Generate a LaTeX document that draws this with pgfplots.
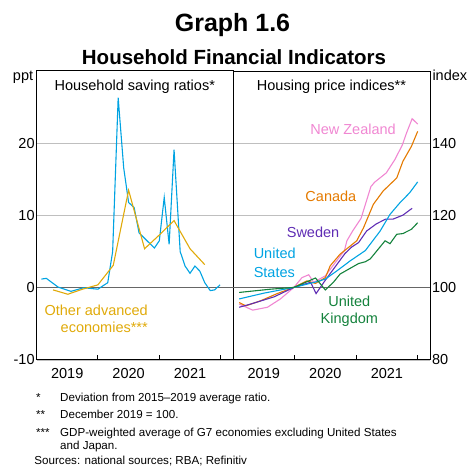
\documentclass[border=0pt]{standalone}
\usepackage{fontspec}
\setmainfont{Liberation Sans}
\usepackage{pgfplots}
\pgfplotsset{compat=1.18}

\definecolor{usblue}{RGB}{0,163,226}
\definecolor{oaegold}{RGB}{224,170,10}
\definecolor{caorange}{RGB}{228,122,0}
\definecolor{sepurple}{RGB}{95,45,180}
\definecolor{nzpink}{RGB}{240,135,210}
\definecolor{ukgreen}{RGB}{20,130,60}

\newcommand{\fs}[1]{\fontsize{#1}{1.2\dimexpr#1pt\relax}\selectfont}

\pgfplotsset{
  panel/.style={
    scale only axis, height=289pt,
    xmin=2019, xmax=2022.2,
    xtick={2019.5,2020.5,2021.5}, xticklabels={2019,2020,2021},
    minor xtick={2020,2021,2022},
    xtick pos=left, tick align=inside,
    major tick length=0pt, minor tick length=5pt,
    minor tick style={line width=0.9pt, black},
    axis line style={line width=1pt, black},
    ymajorgrids, grid style={line width=0.8pt, black!25},
    ticklabel style={font=\fs{14.5}},
    /pgf/number format/assume math mode=true,
    xticklabel style={yshift=-4.5pt},
    every axis plot/.append style={line width=1.1pt, mark=none},
  },
}

\begin{document}
\begin{tikzpicture}
\useasboundingbox (-36.5pt,-110pt) rectangle (437.5pt,360pt);

% left panel: saving ratios
\begin{axis}[panel, name=left, width=196.5pt,
  ymin=-10, ymax=30, ytick={-10,10,20},
  extra y ticks={0}, extra y tick style={grid style={line width=1.3pt, black!60}},
  yticklabel style={xshift=1.6pt},
]
\addplot[usblue] coordinates {
 (2019.08,1.2) (2019.16,1.3) (2019.35,0.1) (2019.56,-0.5) (2019.77,0.0)
 (2020.0,-0.2) (2020.16,0.7) (2020.24,5.0) (2020.33,26.3) (2020.42,16.6)
 (2020.50,11.8) (2020.59,11.1) (2020.67,7.6) (2020.80,6.5) (2020.92,5.5)
 (2021.0,6.5) (2021.08,12.5) (2021.16,6.0) (2021.24,19.1) (2021.34,5.0)
 (2021.42,3.0) (2021.50,2.0) (2021.58,3.0) (2021.66,2.3) (2021.74,0.7)
 (2021.83,-0.4) (2021.90,-0.3) (2021.99,0.4)
};
\addplot[oaegold] coordinates {
 (2019.27,-0.3) (2019.51,-0.9) (2019.75,-0.2) (2020.0,0.4) (2020.25,3.1)
 (2020.5,13.5) (2020.76,5.4) (2021.0,7.3) (2021.24,9.3) (2021.5,5.4) (2021.74,3.2)
};
\node[anchor=base] at (rel axis cs:0.5,0.9325) {\fs{14.5}Household saving ratios*};
\node[anchor=base east, text=oaegold] at (axis cs:2020.87,-3.86) {\fs{14.5}Other advanced};
\node[anchor=base east, text=oaegold] at (axis cs:2020.87,-6.2) {\fs{14.5}economies***};
\end{axis}

% right panel: housing prices
\begin{axis}[panel, at={(left.south east)}, anchor=south west, width=197pt,
  ymin=80, ymax=160, ytick={80,120,140},
  extra y ticks={100}, extra y tick style={grid style={line width=1.3pt, black!60}},
  yticklabel pos=right, yticklabel style={xshift=-1.5pt},
]
\addplot[nzpink] coordinates {
 (2019.10,95.5) (2019.32,93.8) (2019.56,94.6) (2019.77,96.9) (2019.99,100.1)
 (2020.12,102.8) (2020.23,103.6) (2020.31,101.5) (2020.50,103.3) (2020.65,106.7)
 (2020.81,110.3) (2020.85,113.0) (2020.95,115.9) (2021.08,119.2) (2021.24,128.0)
 (2021.30,129.2) (2021.49,131.8) (2021.63,135.5) (2021.75,139.5) (2021.82,142.9)
 (2021.91,146.8) (2022.0,145.3)
};
\addplot[caorange] coordinates {
 (2019.10,95.9) (2019.21,95.0) (2019.45,96.4) (2019.72,98.4) (2019.99,100.1)
 (2020.20,101.9) (2020.34,101.2) (2020.50,102.8) (2020.58,106.1) (2020.74,109.3)
 (2021.01,113.0) (2021.12,116.6) (2021.28,123.1) (2021.44,126.8) (2021.66,130.4)
 (2021.76,135.0) (2021.90,139.2) (2022.0,143.3)
};
\addplot[sepurple] coordinates {
 (2019.10,94.6) (2019.29,95.5) (2019.67,97.5) (2019.99,100.1) (2020.26,101.5)
 (2020.35,98.4) (2020.50,102.1) (2020.69,106.5) (2020.82,109.5) (2020.93,111.3)
 (2021.04,112.5) (2021.17,115.7) (2021.33,117.7) (2021.48,119.0) (2021.60,119.0)
 (2021.76,120.1) (2021.91,122.0)
};
\addplot[usblue] coordinates {
 (2019.10,96.9) (2019.50,98.5) (2019.99,100.1) (2020.37,101.7) (2020.50,102.4)
 (2020.69,104.7) (2020.90,107.4) (2021.15,110.3) (2021.39,115.7) (2021.55,120.3)
 (2021.71,123.5) (2021.87,126.3) (2022.0,129.3)
};
\addplot[ukgreen] coordinates {
 (2019.10,98.7) (2019.61,99.6) (2019.99,100.1) (2020.34,102.7) (2020.50,99.4)
 (2020.63,101.5) (2020.74,103.8) (2021.04,106.7) (2021.15,107.2) (2021.23,108.0)
 (2021.36,110.7) (2021.47,113.0) (2021.55,112.2) (2021.66,114.8) (2021.76,115.0)
 (2021.90,116.2) (2022.0,118.0)
};
\node[anchor=base] at (rel axis cs:0.5,0.9325) {\fs{14.5}Housing price indices**};
\node[anchor=base, text=nzpink] at (axis cs:2020.95,142.4) {\fs{14.5}New Zealand};
\node[anchor=base, text=caorange] at (axis cs:2020.59,124.0) {\fs{14.5}Canada};
\node[anchor=base, text=sepurple] at (axis cs:2020.30,113.9) {\fs{14.5}Sweden};
\node[anchor=base west, text=usblue] at (axis cs:2019.28,108.1) {\fs{14.5}United};
\node[anchor=base west, text=usblue] at (axis cs:2019.28,102.9) {\fs{14.5}States};
\node[anchor=base, text=ukgreen] at (axis cs:2020.89,94.76) {\fs{14.5}United};
\node[anchor=base, text=ukgreen] at (axis cs:2020.89,90.0) {\fs{14.5}Kingdom};
\end{axis}

% titles and units
\node[anchor=base] at (196pt,328.3pt) {\fs{25}\bfseries Graph 1.6};
\node[anchor=base] at (197.5pt,295pt) {\fs{20.5}\bfseries Household Financial Indicators};
\node[anchor=base east, inner sep=0pt] at (-3.2pt,279pt) {\fs{14.5}ppt};
\node[anchor=base west, inner sep=0pt] at (395.8pt,279pt) {\fs{14.5}index};

% footnotes
\begin{scope}[every node/.style={inner sep=0pt, font=\fs{11.6}}]
\node[anchor=base west] at (-0.5pt,-41.5pt) {*};
\node[anchor=base west] at (23.5pt,-41.5pt) {Deviation from 2015–2019 average ratio.};
\node[anchor=base west] at (-0.5pt,-59pt) {**};
\node[anchor=base west] at (23.5pt,-59pt) {December 2019 = 100.};
\node[anchor=base west] at (-0.5pt,-76.5pt) {***};
\node[anchor=base west] at (23.5pt,-76.5pt) {GDP-weighted average of G7 economies excluding United States};
\node[anchor=base west] at (23.5pt,-90pt) {and Japan.};
\node[anchor=base west] at (-2.2pt,-105pt) {Sources: national sources; RBA; Refinitiv};
\end{scope}
\end{tikzpicture}
\end{document}
